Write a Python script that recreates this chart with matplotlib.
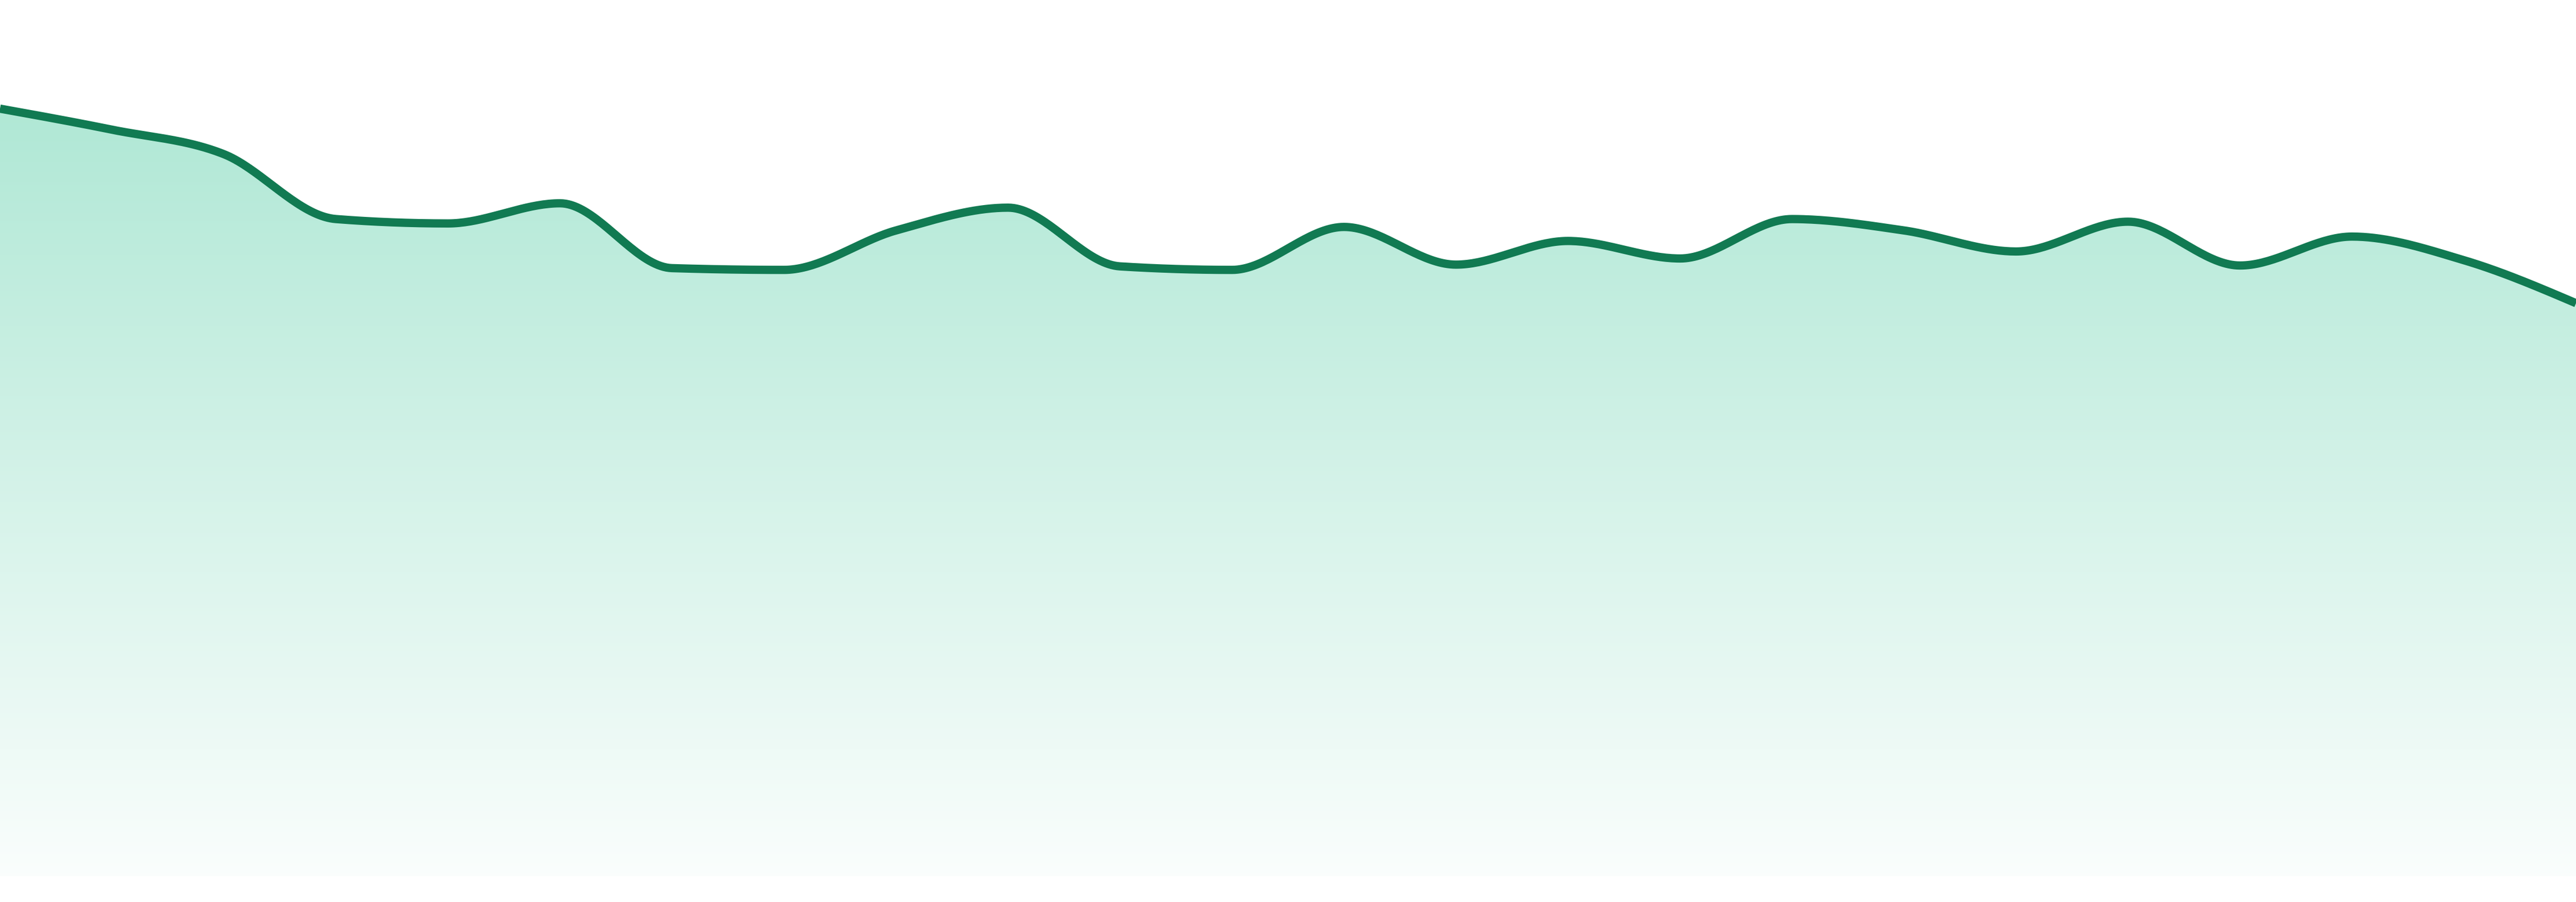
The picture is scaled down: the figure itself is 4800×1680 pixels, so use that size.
import numpy as np
import matplotlib
matplotlib.use("Agg")
import matplotlib.pyplot as plt
from matplotlib.colors import to_rgb

# ---- data (24 points) ----
hours = list(range(24))
values = [87.6, 85.2, 82.4, 75.0, 74.5, 76.8, 69.4, 69.2, 73.7, 76.3, 69.6, 69.2,
          74.1, 69.8, 72.5, 70.5, 75.0, 73.7, 71.3, 74.7, 69.7, 73.0, 70.3, 65.4]

line_color = "#117a52"
fill_base = "#10b981"
y_min, y_max = -2.94, 100.0


def monotone_x(x, y, n=40):
    """d3.curveMonotoneX-style smoothing."""
    x = np.asarray(x, float)
    y = np.asarray(y, float)
    m = len(x)
    h = np.diff(x)
    s = np.diff(y) / h
    t = np.zeros(m)
    for i in range(1, m - 1):
        h0, h1 = h[i - 1], h[i]
        s0, s1 = s[i - 1], s[i]
        p = (s0 * h1 + s1 * h0) / (h0 + h1)
        t[i] = (np.sign(s0) + np.sign(s1)) * min(abs(s0), abs(s1), 0.5 * abs(p))
    t[0] = (3 * s[0] - t[1]) / 2
    t[-1] = (3 * s[-1] - t[-2]) / 2
    xs, ys = [], []
    for i in range(m - 1):
        dx = h[i]
        P0 = np.array([x[i], y[i]])
        P1 = np.array([x[i] + dx / 3, y[i] + dx / 3 * t[i]])
        P2 = np.array([x[i + 1] - dx / 3, y[i + 1] - dx / 3 * t[i + 1]])
        P3 = np.array([x[i + 1], y[i + 1]])
        u = np.linspace(0, 1, n, endpoint=(i == m - 2))
        B = ((1 - u) ** 3)[:, None] * P0 + (3 * (1 - u) ** 2 * u)[:, None] * P1 \
            + (3 * (1 - u) * u ** 2)[:, None] * P2 + (u ** 3)[:, None] * P3
        xs.append(B[:, 0])
        ys.append(B[:, 1])
    return np.concatenate(xs), np.concatenate(ys)


sx, sy = monotone_x(hours, values)

fig = plt.figure(figsize=(16, 5.6), dpi=300)
ax = fig.add_axes([0, 0, 1, 1])
ax.set_xlim(hours[0], hours[-1])
ax.set_ylim(y_min, y_max)
ax.axis("off")

# gradient fill clipped to the area under the curve
poly = ax.fill_between(sx, sy, 0, color="none", lw=0)
rgb = np.array(to_rgb(fill_base))
ny = 400
alphas = np.linspace(0.375, 0.02, ny)[:, None]  # top -> bottom
img = 1 - alphas[:, :, None] * (1 - rgb[None, None, :])
img = np.repeat(img, 2, axis=1)
im = ax.imshow(img, extent=[hours[0], hours[-1], 0, y_max], aspect="auto",
               origin="upper", interpolation="bilinear", zorder=1)
im.set_clip_path(poly.get_paths()[0], transform=ax.transData)

ax.plot(sx, sy, color=line_color, lw=3.7, solid_capstyle="butt", zorder=3)

fig.savefig("out.png", dpi=300, facecolor="white")
